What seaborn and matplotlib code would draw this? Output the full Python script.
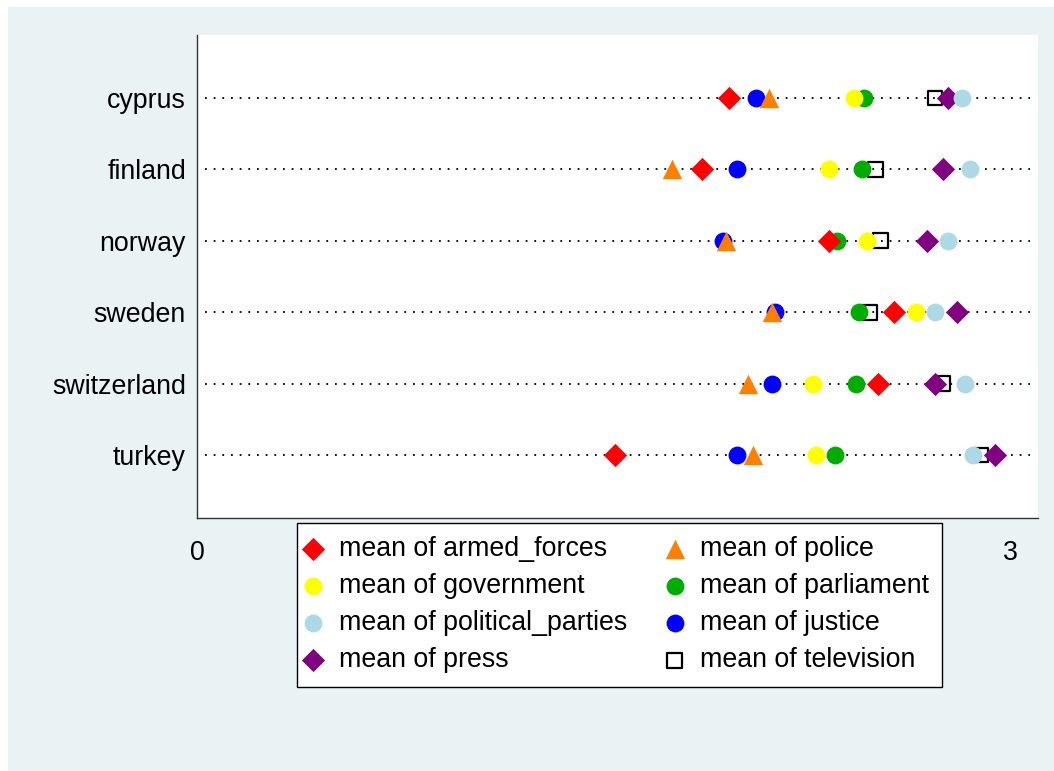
import matplotlib
matplotlib.use("Agg")
import matplotlib.pyplot as plt
from matplotlib.patches import Rectangle
import numpy as np
import pandas as pd
import seaborn as sns

# Mean trust scores by country
countries = ["cyprus", "finland", "norway", "sweden", "switzerland", "turkey"]
armed_forces = [1.96, 1.86, 2.33, 2.57, 2.51, 1.54]
police = [2.11, 1.75, 1.95, 2.12, 2.03, 2.05]
government = [2.42, 2.33, 2.47, 2.65, 2.27, 2.28]
parliament = [2.46, 2.45, 2.36, 2.44, 2.43, 2.35]
political_parties = [2.82, 2.85, 2.77, 2.72, 2.83, 2.86]
justice = [2.06, 1.99, 1.94, 2.13, 2.12, 1.99]
press = [2.77, 2.75, 2.69, 2.80, 2.72, 2.94]
television = [2.72, 2.50, 2.52, 2.48, 2.75, 2.89]

# inner ticks carry no label (the legend sits over them)
x_ticks = [0, 1, 2, 3]
x_tick_labels = ["0", "", "", "3"]

series_names = ["armed_forces", "police", "government", "parliament",
                "political_parties", "justice", "press", "television"]
series_values = [armed_forces, police, government, parliament,
                 political_parties, justice, press, television]

# marker, size (pt^2), face colour, edge colour
styles = {
    "armed_forces": ("D", 140, "#FF0000", None),
    "police": ("^", 195, "#FF7F00", None),
    "government": ("o", 165, "#FFFF00", None),
    "parliament": ("o", 165, "#00AC00", None),
    "political_parties": ("o", 165, "#ADD8E6", None),
    "justice": ("o", 165, "#0000FF", None),
    "press": ("D", 140, "#800080", None),
    "television": ("s", 110, "none", "#000000"),
}

rows = []
for name, vals in zip(series_names, series_values):
    for i, (c, v) in enumerate(zip(countries, vals)):
        rows.append({"country": c, "pos": i, "series": name, "value": v})
df = pd.DataFrame(rows)

sns.set_style("white")
plt.rcParams["font.family"] = ["Liberation Sans", "DejaVu Sans"]
plt.rcParams["text.color"] = "black"
plt.rcParams["xtick.color"] = "black"
plt.rcParams["ytick.color"] = "black"

W, H = 1054, 771
fig = plt.figure(figsize=(W / 100, H / 100), dpi=100)
fig.patch.set_facecolor("white")
fig.patches.append(Rectangle((8 / W, 0), 1 - 8 / W, 1 - 7 / H,
                             transform=fig.transFigure, facecolor="#EAF2F3",
                             edgecolor="none", zorder=-10))

ax = fig.add_axes([197 / W, 1 - 518 / H, (1038 - 197) / W, (518 - 35) / H])
ax.set_facecolor("white")

# dotted guide line for each country
for i in range(len(countries)):
    ax.axhline(i, xmin=0.01, xmax=0.99, color="black", lw=1.3,
               linestyle=(0, (1.0, 3.8)), zorder=1)

# later series are drawn first so earlier ones sit on top
for k, name in enumerate(reversed(series_names)):
    marker, size, fc, ec = styles[name]
    sub = df[df["series"] == name]
    if ec is None:
        sns.scatterplot(data=sub, x="value", y="pos", marker=marker, s=size,
                        color=fc, linewidth=0, ax=ax, zorder=3 + k,
                        label=f"mean of {name}")
    else:
        sns.scatterplot(data=sub, x="value", y="pos", marker=marker, s=size,
                        color=ec, facecolor="none", edgecolor=ec,
                        linewidth=1.6, ax=ax, zorder=3 + k,
                        label=f"mean of {name}")

ax.set_xlim(0, 3.1)
ax.set_ylim(len(countries) - 1 + 0.88, -0.88)
ax.set_yticks(range(len(countries)))
ax.set_yticklabels(countries)
ax.set_xticks(x_ticks)
ax.set_xticklabels(x_tick_labels)
ax.set_xlabel("")
ax.set_ylabel("")
ax.tick_params(axis="y", length=0, pad=8, labelsize=19.3, labelcolor="black")
ax.tick_params(axis="x", length=7.5, width=0.9, direction="out", pad=8,
               labelsize=19.3, color="#333333", labelcolor="black")
for side in ["top", "right"]:
    ax.spines[side].set_visible(False)
for side in ["left", "bottom"]:
    ax.spines[side].set_color("#333333")
    ax.spines[side].set_linewidth(1.0)

leg = ax.get_legend()
if leg is not None:
    leg.remove()

handles, labels = ax.get_legend_handles_labels()
lookup = dict(zip(labels, handles))
# two columns filled row by row
col1 = ["armed_forces", "government", "political_parties", "press"]
col2 = ["police", "parliament", "justice", "television"]
order = [f"mean of {n}" for n in col1 + col2]
fig.legend([lookup[l] for l in order], order, loc="upper left",
           bbox_to_anchor=(297 / W, 1 - 523 / H), ncol=2,
           fontsize=19.3, frameon=True, fancybox=False, framealpha=1,
           edgecolor="black", facecolor="white", scatterpoints=1,
           handlelength=0.2, handletextpad=0.85, columnspacing=1.68,
           labelspacing=0.41, borderpad=0.5, borderaxespad=0)
fig.legends[0].get_frame().set_linewidth(1.0)

fig.savefig("out.png", dpi=100)
